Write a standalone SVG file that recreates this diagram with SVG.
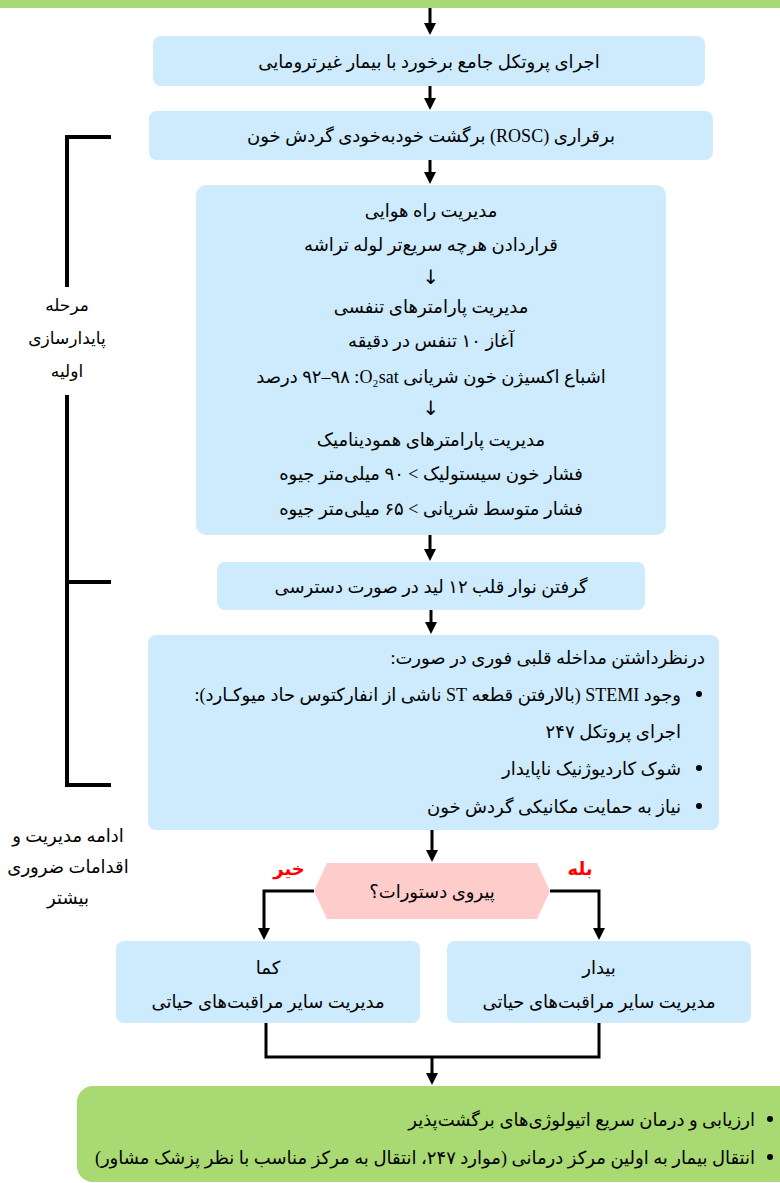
<svg xmlns="http://www.w3.org/2000/svg" width="780" height="1183" viewBox="0 0 780 1183">
<style>
.box{fill:#CDEBFC;}
.t{font-family:"Liberation Serif","DejaVu Sans",serif;font-size:18px;fill:#000;direction:rtl;}
.s{font-size:17px;}
.ar{font-family:"DejaVu Sans",sans-serif;font-size:20px;fill:#000;text-anchor:middle;}
.c{text-anchor:middle;}
.r{text-anchor:start;}
.lbl{font-family:"DejaVu Sans",sans-serif;font-size:18px;font-weight:bold;fill:#FF0000;text-anchor:middle;direction:rtl;}
.con{fill:none;stroke:#000;stroke-width:3;}
.br{fill:none;stroke:#000;stroke-width:4;}
</style>
<defs>
<marker id="ah" viewBox="0 0 12 12" markerWidth="12" markerHeight="12" refX="4" refY="6" orient="auto" markerUnits="userSpaceOnUse">
<path d="M0,0 L12,6 L0,12 z" fill="#000"/>
</marker>
</defs>
<rect x="0" y="-10" width="780" height="18" fill="#A9D972"/>
<g id="connectors">
<line class="con" x1="430" y1="8" x2="430" y2="27" marker-end="url(#ah)"/>
<line class="con" x1="430" y1="86" x2="430" y2="102" marker-end="url(#ah)"/>
<line class="con" x1="430" y1="160" x2="430" y2="176" marker-end="url(#ah)"/>
<line class="con" x1="430" y1="535" x2="430" y2="553" marker-end="url(#ah)"/>
<line class="con" x1="431" y1="610" x2="431" y2="626" marker-end="url(#ah)"/>
<line class="con" x1="432" y1="830" x2="432" y2="854" marker-end="url(#ah)"/>
<path class="con" d="M314,891 H264 V932" marker-end="url(#ah)"/>
<path class="con" d="M550,891 H599 V932" marker-end="url(#ah)"/>
<path class="con" d="M266,1023 V1057 H599 V1023"/>
<line class="con" x1="432" y1="1057" x2="432" y2="1077" marker-end="url(#ah)"/>
</g>
<g id="bracket">
<path class="br" d="M111,137 H67 V287"/>
<path class="br" d="M67,395 V785 H111"/>
<path class="br" d="M67,582 H111"/>
<text class="t s c" x="67" y="311">مرحله</text>
<text class="t s c" x="67" y="344">پایدارسازی</text>
<text class="t s c" x="67" y="377">اولیه</text>
</g>
<g id="note">
<text class="t c" x="68" y="842">ادامه مدیریت و</text>
<text class="t c" x="68" y="873">اقدامات ضروری</text>
<text class="t c" x="68" y="904">بیشتر</text>
</g>
<g id="n1">
<rect class="box" x="153" y="36" width="552" height="50" rx="8"/>
<text class="t c" x="429" y="68">اجرای پروتکل جامع برخورد با بیمار غیرترومایی</text>
</g>
<g id="n2">
<rect class="box" x="149" y="111" width="564" height="49" rx="8"/>
<text class="t c" x="431" y="142">برقراری (ROSC) برگشت خودبه‌خودی گردش خون</text>
</g>
<g id="n3">
<rect class="box" x="196" y="185" width="470" height="350" rx="10"/>
<text class="t c" x="431" y="217">مدیریت راه هوایی</text>
<text class="t c" x="431" y="251">قراردادن هرچه سریع‌تر لوله تراشه</text>
<text class="ar" x="431" y="284">↓</text>
<text class="t c" x="431" y="313">مدیریت پارامترهای تنفسی</text>
<text class="t c" x="431" y="347">آغاز ۱۰ تنفس در دقیقه</text>
<text class="t c" x="431" y="383">اشباع اکسیژن خون شریانی O₂sat&#x200F;: ۹۸–۹۲ درصد</text>
<text class="ar" x="431" y="415">↓</text>
<text class="t c" x="431" y="446">مدیریت پارامترهای همودینامیک</text>
<text class="t c" x="431" y="480">فشار خون سیستولیک &gt; ۹۰ میلی‌متر جیوه</text>
<text class="t c" x="431" y="515">فشار متوسط شریانی &gt; ۶۵ میلی‌متر جیوه</text>
</g>
<g id="n4">
<rect class="box" x="217" y="562" width="428" height="48" rx="8"/>
<text class="t c" x="431" y="593">گرفتن نوار قلب ۱۲ لید در صورت دسترسی</text>
</g>
<g id="n5">
<rect class="box" x="148" y="635" width="571" height="195" rx="8"/>
<text class="t r" x="705" y="664">درنظرداشتن مداخله قلبی فوری در صورت:</text>
<circle cx="699" cy="694" r="3"/>
<text class="t r" x="681" y="701">وجود STEMI (بالارفتن قطعه ST ناشی از انفارکتوس حاد میوکـارد):</text>
<text class="t r" x="681" y="738">اجرای پروتکل ۲۴۷</text>
<circle cx="699" cy="768" r="3"/>
<text class="t r" x="681" y="775">شوک کاردیوژنیک ناپایدار</text>
<circle cx="699" cy="806" r="3"/>
<text class="t r" x="681" y="813">نیاز به حمایت مکانیکی گردش خون</text>
</g>
<g id="n6">
<polygon points="327,863 537,863 550,891 537,919 327,919 314,891" fill="#FFCCCC"/>
<text class="t c" x="432" y="898">پیروی دستورات؟</text>
<text class="lbl" x="289" y="875">خیر</text>
<text class="lbl" x="580" y="875">بله</text>
</g>
<g id="n7">
<rect class="box" x="116" y="941" width="304" height="82" rx="8"/>
<text class="t c" x="268" y="974">کما</text>
<text class="t c" x="268" y="1008">مدیریت سایر مراقبت‌های حیاتی</text>
</g>
<g id="n8">
<rect class="box" x="447" y="941" width="304" height="82" rx="8"/>
<text class="t c" x="599" y="974">بیدار</text>
<text class="t c" x="599" y="1008">مدیریت سایر مراقبت‌های حیاتی</text>
</g>
<g id="n9">
<rect x="77" y="1086" width="730" height="96" rx="16" fill="#A9D972"/>
<circle cx="770" cy="1119" r="3"/>
<text class="t r" x="755" y="1126">ارزیابی و درمان سریع اتیولوژی‌های برگشت‌پذیر</text>
<circle cx="770" cy="1157" r="3"/>
<text class="t r" x="755" y="1164">انتقال بیمار به اولین مرکز درمانی (موارد ۲۴۷، انتقال به مرکز مناسب با نظر پزشک مشاور)</text>
</g>
</svg>
